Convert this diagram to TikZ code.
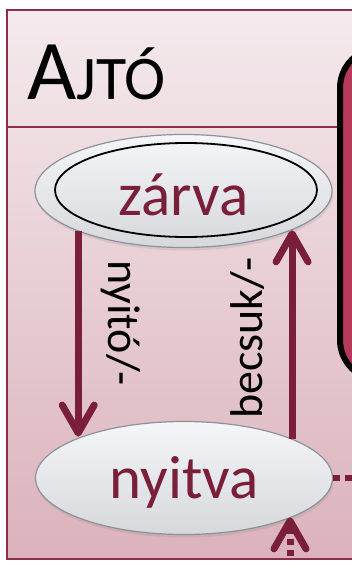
\documentclass[tikz,border=0pt]{standalone}
\usepackage{fontspec}
\setmainfont{Carlito}
\usetikzlibrary{arrows.meta, positioning, shapes.geometric, shadows}
\definecolor{DoorMaroon}{HTML}{7A1F3A}
\definecolor{FrameRed}{HTML}{8C2E4A}
\definecolor{PanelCrimson}{HTML}{B83A5A}
\definecolor{PinkTop}{RGB}{244,234,237}
\definecolor{PinkBottom}{RGB}{219,178,187}
\definecolor{StateTop}{RGB}{245,246,248}
\definecolor{StateBottom}{RGB}{214,216,220}
\definecolor{StateEdge}{RGB}{140,146,152}

\begin{document}
\begin{tikzpicture}[x=1pt, y=-1pt,
    state/.style={ellipse, minimum width=297pt, minimum height=113pt, inner sep=0pt,
        top color=StateTop, bottom color=StateBottom, draw=StateEdge, line width=1.2pt,
        text=DoorMaroon, font=\fontsize{61}{61}\selectfont, text height=48pt,
        drop shadow={shadow xshift=1pt, shadow yshift=-3pt, opacity=0.18}},
    trans/.style={draw=DoorMaroon, line width=7pt, -{Straight Barb[length=28pt, width=32pt, round]}},
    translabel/.style={font=\fontsize{46}{46}\selectfont, inner sep=0pt}]
    \useasboundingbox (0,0) rectangle (352,561);
    \clip (0,0) rectangle (352,561);

    % Class frame with title band
    \shade[top color=PinkTop, bottom color=PinkBottom] (7,10) rectangle (400,559);
    \draw[FrameRed, line width=2pt] (7,10) rectangle (400,559);
    \draw[FrameRed, line width=1.2pt] (7,127) -- (400,127);
    \node[anchor=base west, inner sep=0pt] (title) at (27,100)
        {\fontsize{85}{85}\selectfont A\fontsize{62}{62}\selectfont JTÓ};

    % Neighbouring panel
    \draw[line width=6pt, fill=PanelCrimson, rounded corners=40pt] (340,48) rectangle (420,380);

    % States
    \node[state, text depth=0pt] (zarva) at (183.5,191) {zárva};
    \draw[line width=1.8pt] (zarva.center) ++(2.5,-1) ellipse [x radius=131pt, y radius=47pt];
    \node[state, text depth=8pt] (nyitva) at (184,478) {nyitva};

    % Transitions
    \draw[trans] (zarva.201.4) -- (zarva.201.4 |- nyitva.158.8);
    \draw[trans] (nyitva.20.5) -- (nyitva.20.5 |- zarva.-20.3);
    \node[translabel, rotate=-90, anchor=base] (nyitolbl) at (108,323) {nyitó/-};
    \node[translabel, rotate=90, anchor=base] (becsuklbl) at (262,338) {becsuk/-};

    % Links leaving the frame
    \coordinate (below) at (290,600);
    \coordinate (offpage) at (400,478);
    \draw[trans, dash pattern=on 6pt off 5pt] (below) -- (below |- nyitva.-20.5);
    \draw[DoorMaroon, line width=6pt, dash pattern=on 7pt off 5pt] (nyitva.east) -- (offpage);
\end{tikzpicture}
\end{document}
